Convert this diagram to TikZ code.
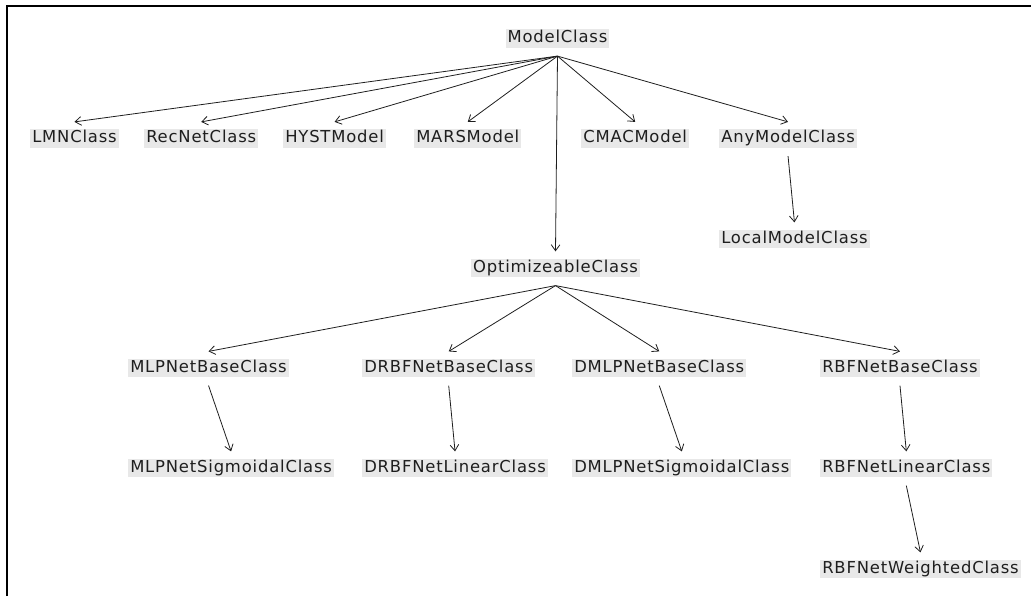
\documentclass[tikz,border=0pt]{standalone}
\usepackage{fontspec}
\newfontfamily\clsfont[LetterSpace=5]{DejaVu Sans}
\usepackage{tikz}
\usetikzlibrary{arrows.meta}

\definecolor{boxgray}{HTML}{E8E8E8}
\definecolor{inkgray}{HTML}{1E1E1E}

\tikzset{
 cls/.style={fill=boxgray, text=inkgray, anchor=west, inner xsep=1.5pt, inner ysep=1.1pt,
  text height=9.2pt, text depth=2.6pt, font=\clsfont\fontsize{12.3}{14}\selectfont},
 inherit/.style={-{Straight Barb[length=4.5pt, width=6.5pt]}, line width=0.6pt, draw=inkgray},
}

\begin{document}
\begin{tikzpicture}[x=0.75pt, y=-0.75pt]
 \useasboundingbox (0,0) rectangle (1031,596);
 \draw[line width=1.5pt] (7,596) -- (7,6) -- (1031,6);

 % root and first level
 \node[cls, anchor=center] (mc) at (557.5,38.5) {ModelClass};
 \node[cls] (lmn) at (30,138.5) {LMNClass};
 \node[cls] (rec) at (144,138.5) {RecNetClass};
 \node[cls] (hyst) at (283,138.5) {HYSTModel};
 \node[cls] (mars) at (414,138.5) {MARSModel};
 \node[cls] (cmac) at (581,138.5) {CMACModel};
 \node[cls] (any) at (719,138.5) {AnyModelClass};
 \node[cls] (loc) at (719,239) {LocalModelClass};

 % optimizeable branch
 \node[cls, anchor=center] (opt) at (555.5,268) {OptimizeableClass};
 \node[cls] (mlpb) at (128,368) {MLPNetBaseClass};
 \node[cls] (drbfb) at (362,368) {DRBFNetBaseClass};
 \node[cls] (dmlpb) at (572,368) {DMLPNetBaseClass};
 \node[cls] (rbfb) at (820,368) {RBFNetBaseClass};
 \node[cls] (mlps) at (128,468) {MLPNetSigmoidalClass};
 \node[cls] (drbfl) at (362,468) {DRBFNetLinearClass};
 \node[cls] (dmlps) at (572,468) {DMLPNetSigmoidalClass};
 \node[cls] (rbfl) at (820,468) {RBFNetLinearClass};
 \node[cls] (rbfw) at (820,569) {RBFNetWeightedClass};

 \foreach \a/\b in {mc/lmn, mc/rec, mc/hyst, mc/mars, mc/cmac, mc/any, mc/opt, any/loc,
   opt/mlpb, opt/drbfb, opt/dmlpb, opt/rbfb, mlpb/mlps, drbfb/drbfl, dmlpb/dmlps,
   rbfb/rbfl, rbfl/rbfw}
  \draw[inherit] ([yshift=-6pt]\a.south) -- ([yshift=5.25pt]\b.north);
\end{tikzpicture}
\end{document}
